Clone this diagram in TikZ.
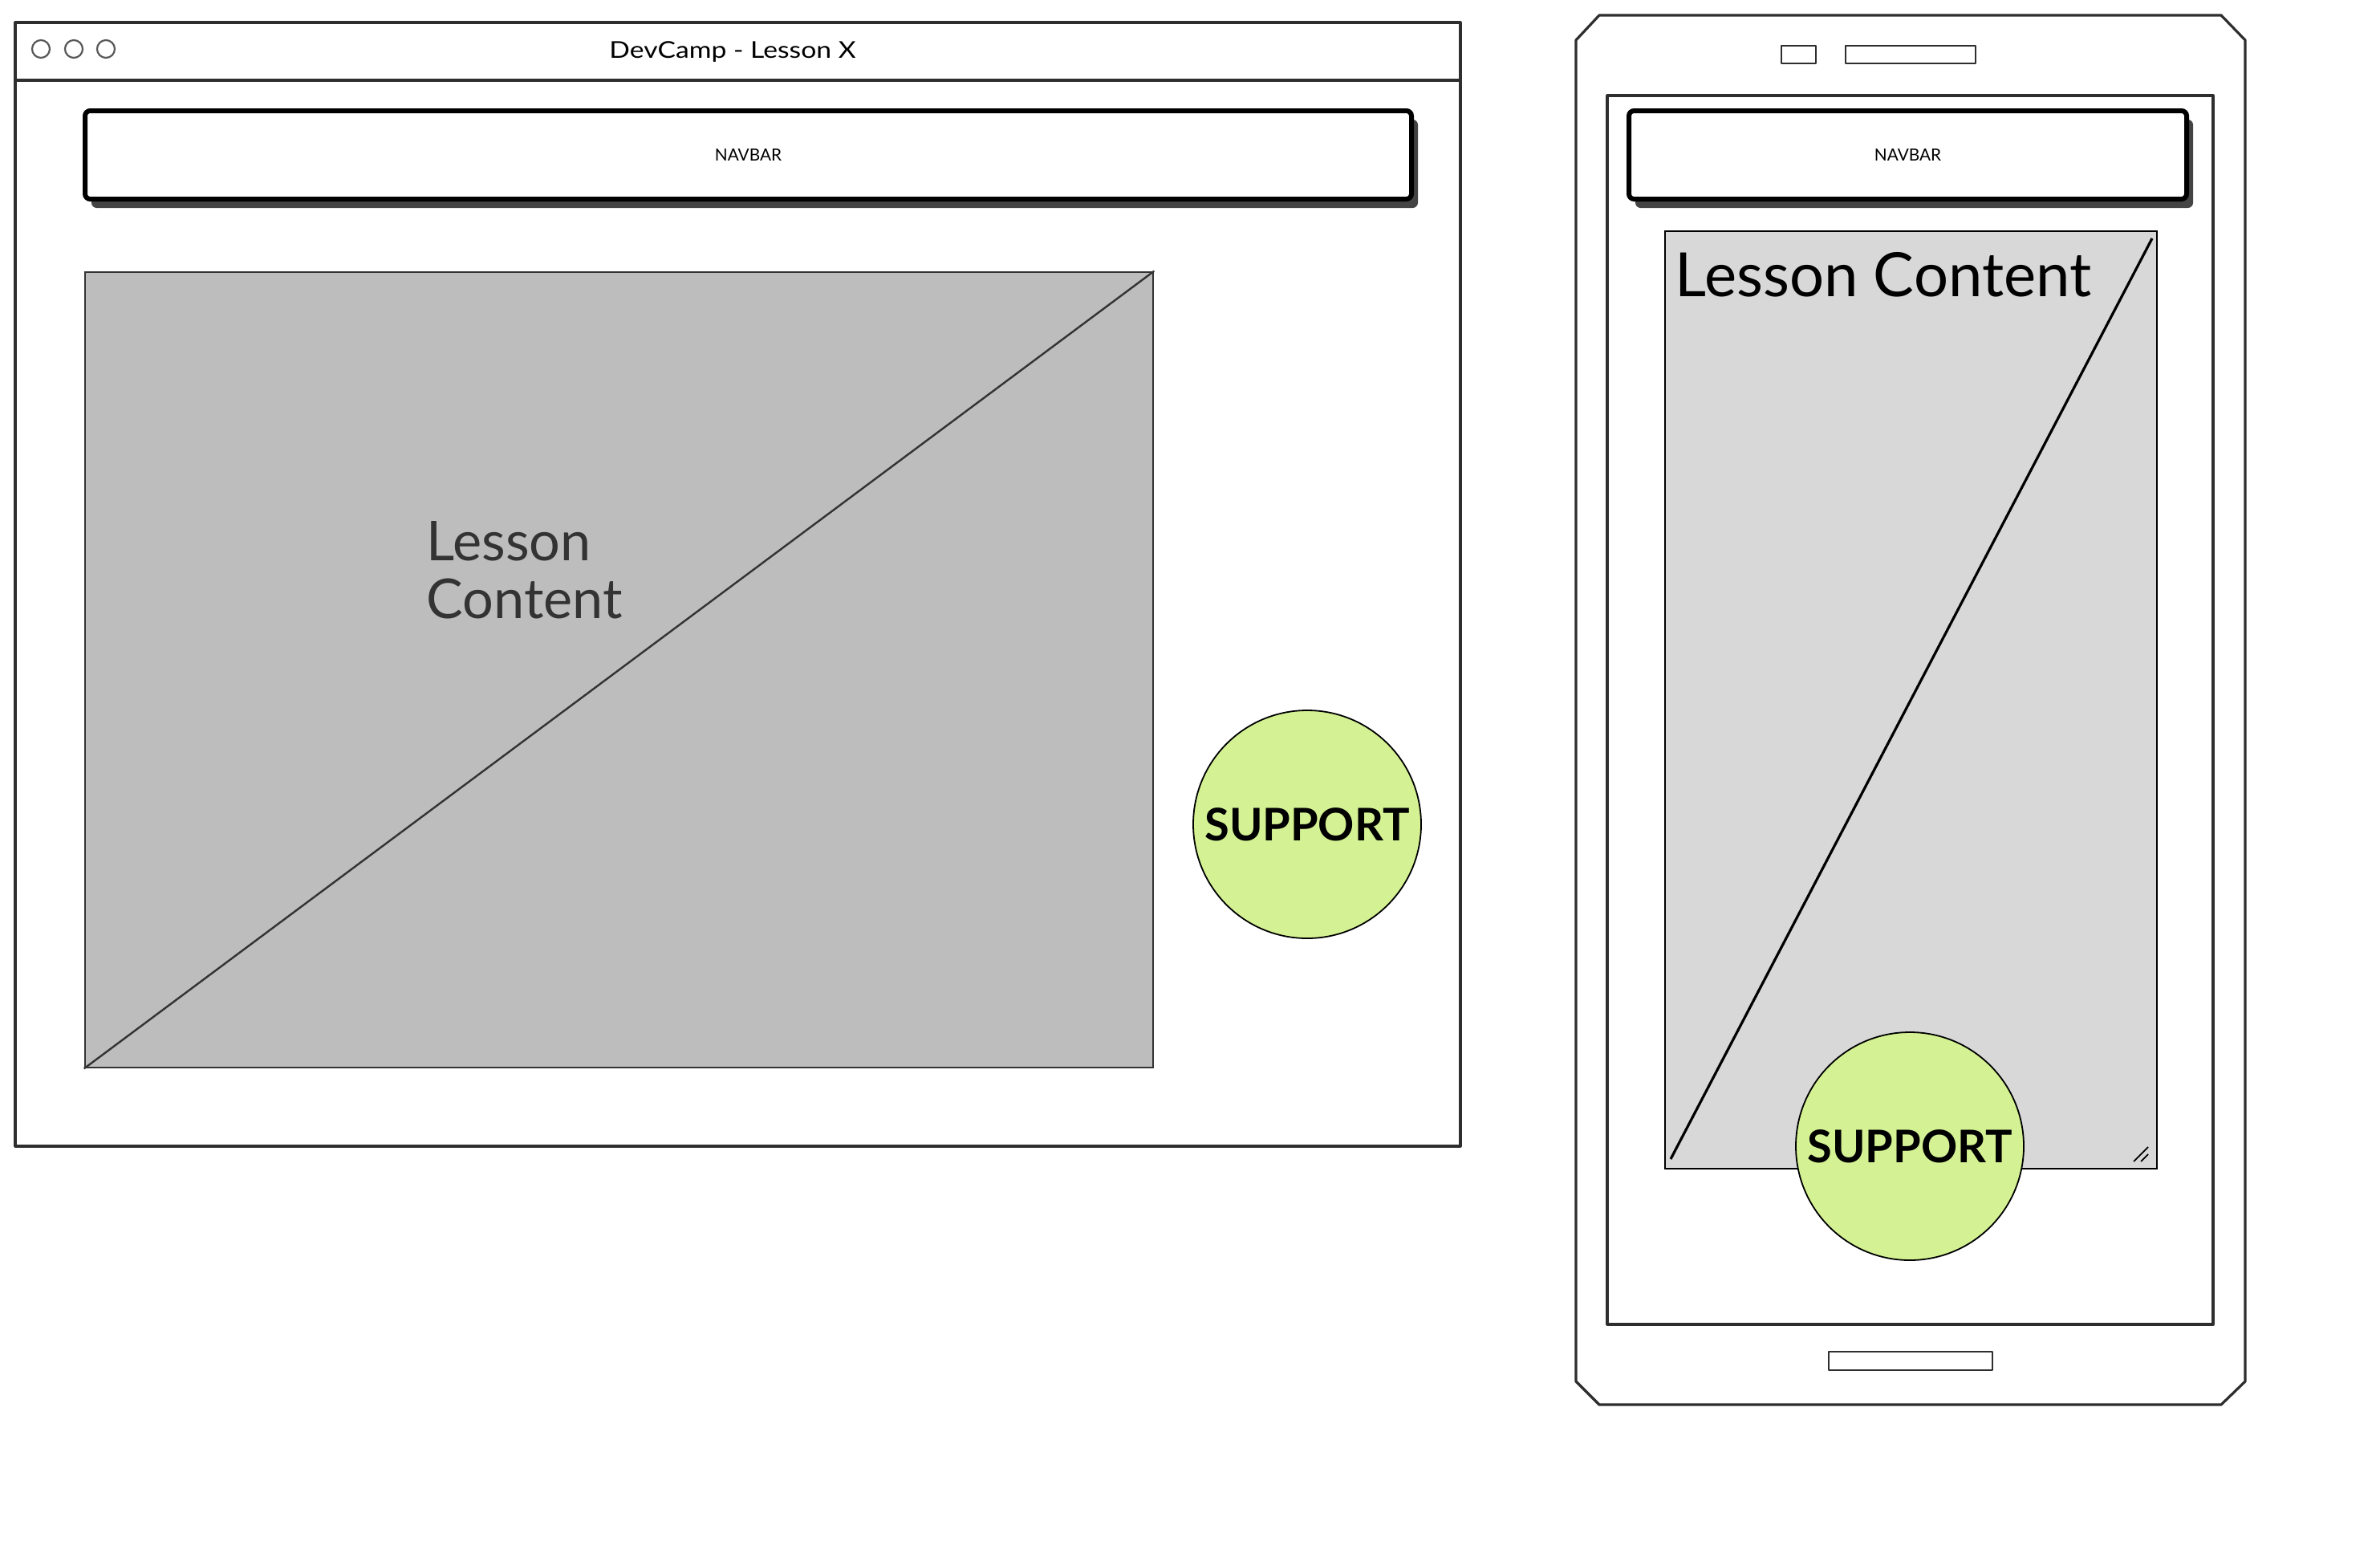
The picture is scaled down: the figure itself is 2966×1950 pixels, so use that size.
\documentclass[tikz,border=0pt]{standalone}
\usepackage{fontspec}
\setmainfont{Lato}
\usetikzlibrary{fit,shadows,shapes.geometric}

\definecolor{ink}{HTML}{2E2E2E}
\definecolor{boxgray}{HTML}{BDBDBD}
\definecolor{screengray}{HTML}{D8D8D8}
\definecolor{lime}{HTML}{D4F293}
\definecolor{shadowgray}{HTML}{444444}
\definecolor{labelgray}{HTML}{333333}

\begin{document}
\begin{tikzpicture}[x=0.25pt,y=-0.25pt,
  frame/.style={draw=ink, line width=0.8pt, line join=round},
  thinframe/.style={draw=ink, line width=0.65pt, line join=round},
  dot/.style={draw=ink!80, line width=0.55pt, ellipse, minimum width=5.5pt, minimum height=5.5pt, inner sep=0pt},
  navbox/.style={draw=black, fill=white, line width=1.5pt, rounded corners=1.6pt, inner sep=0pt,
    drop shadow={shadow xshift=2pt, shadow yshift=-2.75pt, opacity=1, fill=shadowgray}},
  navtext/.style={font=\fontsize{5.2}{6}\selectfont, text=black},
  deskbox/.style={draw=labelgray, fill=boxgray, line width=0.65pt, inner sep=0pt},
  mobbox/.style={draw=black, fill=screengray, line width=0.55pt, inner sep=0pt},
  supportbtn/.style={circle, draw=black, fill=lime, line width=0.45pt, minimum size=71pt, inner sep=0pt,
    font=\bfseries\fontsize{14}{16}\selectfont, text=black},
]
% white page
\fill[white] (0,0) rectangle (2966,1950);
\useasboundingbox (0,0) rectangle (2966,1950);

%% ---------------- desktop browser window ----------------
\coordinate (winNW) at (19,28);
\coordinate (winSE) at (1820,1428);
\node[frame, inner sep=0pt, fit=(winNW)(winSE)] (window) {};
\coordinate (barL) at (19,100);
\coordinate (barR) at (1820,100);
\draw[frame] (barL) -- (barR);

\node[dot] (dotA) at (51,61) {};
\node[dot] (dotB) at (92,61) {};
\node[dot] (dotC) at (132,61) {};
\node[font=\fontsize{7.2}{8}\selectfont, text=black, anchor=base] (title) at (913,72)
  {\scalebox{1.17}[1]{DevCamp - Lesson X}};

% navbar
\coordinate (navNW) at (106,138);
\coordinate (navSE) at (1759,248);
\node[navbox, fit=(navNW)(navSE)] (navbar) {};
\node[navtext] (navlabel) at (navbar.center) {NAVBAR};

% content placeholder
\coordinate (lcNW) at (106,339);
\coordinate (lcSE) at (1437,1330);
\node[deskbox, fit=(lcNW)(lcSE)] (lesson) {};
\draw[draw=labelgray, line width=0.6pt] (lesson.south west) -- (lesson.north east);
\node[anchor=base west, align=left, inner sep=0pt, text=labelgray,
  font=\fontsize{17.1}{18}\selectfont] (lessonlabel) at (531,770) {Lesson\\Content};

% support button
\node[supportbtn] (support) at (1629,1027) {SUPPORT};

%% ---------------- mobile phone ----------------
\coordinate (phA) at (1993,19);
\coordinate (phB) at (2768,19);
\coordinate (phC) at (2798,50);
\coordinate (phD) at (2798,1721);
\coordinate (phE) at (2768,1750);
\coordinate (phF) at (1993,1750);
\coordinate (phG) at (1964,1721);
\coordinate (phH) at (1964,50);
\draw[frame] (phA) -- (phB) -- (phC) -- (phD) -- (phE) -- (phF) -- (phG) -- (phH) -- cycle;

% speaker and camera slots
\coordinate (camNW) at (2220,57);
\coordinate (camSE) at (2263,79);
\node[thinframe, inner sep=0pt, fit=(camNW)(camSE)] (camera) {};
\coordinate (spkNW) at (2300,57);
\coordinate (spkSE) at (2462,79);
\node[thinframe, inner sep=0pt, fit=(spkNW)(spkSE)] (speaker) {};

% screen
\coordinate (scrNW) at (2003,119);
\coordinate (scrSE) at (2758,1650);
\node[frame, inner sep=0pt, fit=(scrNW)(scrSE)] (screen) {};

% home button
\coordinate (homeNW) at (2279,1684);
\coordinate (homeSE) at (2483,1707);
\node[thinframe, inner sep=0pt, fit=(homeNW)(homeSE)] (home) {};

% mobile navbar
\coordinate (mnavNW) at (2030,138);
\coordinate (mnavSE) at (2725,248);
\node[navbox, fit=(mnavNW)(mnavSE)] (mnavbar) {};
\node[navtext] (mnavlabel) at (mnavbar.center) {NAVBAR};

% mobile content placeholder
\coordinate (mcNW) at (2075,288);
\coordinate (mcSE) at (2688,1456);
\node[mobbox, fit=(mcNW)(mcSE)] (mlesson) {};
\coordinate (mdiagA) at (2082,1444);
\coordinate (mdiagB) at (2682,297);
\draw[black, line width=0.8pt] (mdiagA) -- (mdiagB);
\node[anchor=base west, inner sep=0pt, text=black,
  font=\fontsize{19}{21}\selectfont] (mlessonlabel) at (2087,369) {Lesson Content};

% resize grip
\coordinate (gripA1) at (2659,1447);
\coordinate (gripA2) at (2677,1429);
\coordinate (gripB1) at (2668,1447);
\coordinate (gripB2) at (2677,1438);
\draw[black, line width=0.45pt] (gripA1) -- (gripA2);
\draw[black, line width=0.45pt] (gripB1) -- (gripB2);

% mobile support button
\node[supportbtn] (msupport) at (2380,1428) {SUPPORT};
\end{tikzpicture}
\end{document}
